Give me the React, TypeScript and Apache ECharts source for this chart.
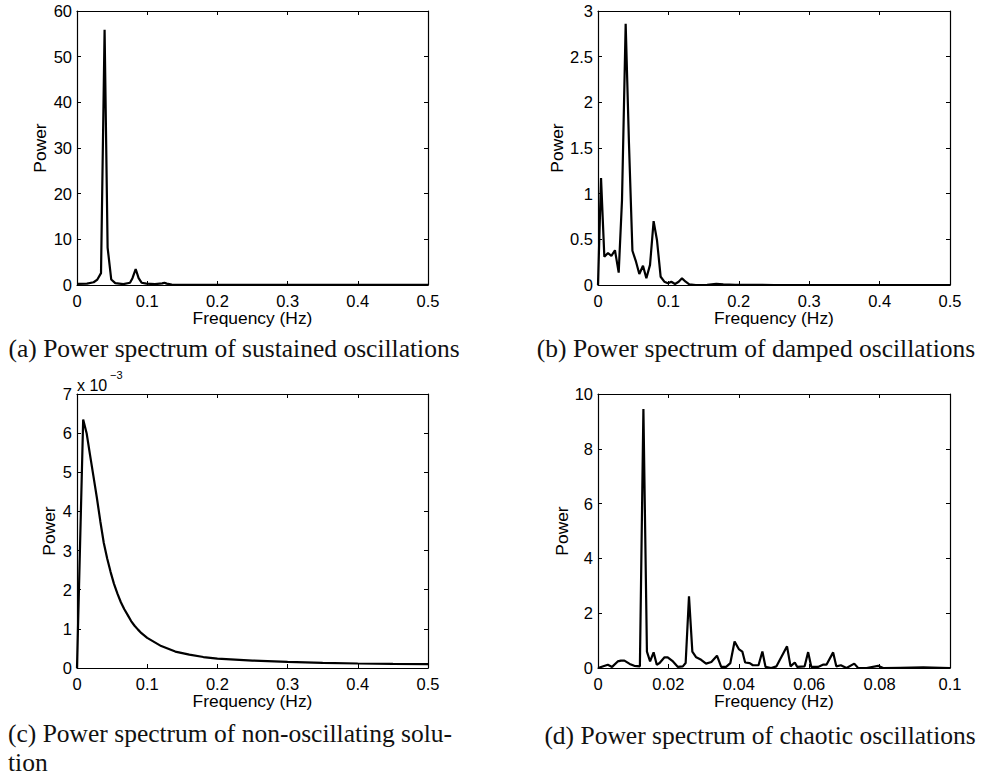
import React, { useEffect, useRef } from "react";
import * as echarts from "echarts";

// (a) sustained oscillations
const freqA = [0, 0.0142, 0.0237, 0.029, 0.0342, 0.0393, 0.0436, 0.0488, 0.0545, 0.066, 0.0755, 0.079, 0.0836, 0.0878, 0.092, 0.099, 0.111, 0.1215, 0.1245, 0.1277, 0.135, 0.2, 0.3, 0.4, 0.5];
const powerA = [0.25, 0.3, 0.6, 1.2, 2.6, 55.9, 8.2, 1.2, 0.4, 0.2, 0.5, 1.5, 3.5, 1.5, 0.5, 0.3, 0.2, 0.35, 0.5, 0.3, 0.1, 0.05, 0.03, 0.02, 0.02];

// (b) damped oscillations
const freqB = [0, 0.0043, 0.009, 0.0142, 0.019, 0.0241, 0.0294, 0.0341, 0.0393, 0.044, 0.0489, 0.054, 0.0587, 0.0639, 0.0687, 0.0739, 0.079, 0.0838, 0.089, 0.0942, 0.0994, 0.1042, 0.1094, 0.1146, 0.1193, 0.1245, 0.1297, 0.139, 0.155, 0.168, 0.178, 0.195, 0.25, 0.5];
const powerB = [0, 1.17, 0.31, 0.35, 0.32, 0.38, 0.135, 0.93, 2.86, 1.55, 0.375, 0.255, 0.12, 0.21, 0.073, 0.22, 0.7, 0.49, 0.09, 0.036, 0.018, 0.036, 0.011, 0.036, 0.073, 0.036, 0.007, 0, 0.002, 0.012, 0.008, 0.002, 0, 0];

// (c) non-oscillating solution
const freqC = [0, 0.0088, 0.0137, 0.0185, 0.0234, 0.0283, 0.0332, 0.0381, 0.043, 0.0479, 0.0527, 0.0576, 0.0625, 0.0674, 0.0723, 0.0771, 0.082, 0.0869, 0.0918, 0.1, 0.12, 0.14, 0.16, 0.18, 0.2, 0.25, 0.3, 0.35, 0.4, 0.45, 0.5];
const powerC = [0, 6.35e-3, 6.0e-3, 5.45e-3, 4.9e-3, 4.35e-3, 3.75e-3, 3.2e-3, 2.8e-3, 2.45e-3, 2.15e-3, 1.9e-3, 1.68e-3, 1.5e-3, 1.35e-3, 1.2e-3, 1.08e-3, 0.98e-3, 0.89e-3, 0.77e-3, 0.56e-3, 0.42e-3, 0.34e-3, 0.28e-3, 0.24e-3, 0.19e-3, 0.155e-3, 0.13e-3, 0.115e-3, 0.105e-3, 0.1e-3];

// (d) chaotic oscillations
const freqD = [0, 0.0028, 0.004, 0.0056, 0.0065, 0.0075, 0.009, 0.0103, 0.0119, 0.0129, 0.0139, 0.0148, 0.0158, 0.0167, 0.0175, 0.0189, 0.0198, 0.0213, 0.0227, 0.0241, 0.0249, 0.02585, 0.0268, 0.0279, 0.0293, 0.0307, 0.0322, 0.0338, 0.035, 0.0364, 0.0376, 0.0388, 0.04, 0.041, 0.0418, 0.0431, 0.044, 0.0456, 0.0467, 0.0476, 0.0492, 0.0507, 0.0537, 0.0547, 0.0559, 0.0566, 0.0587, 0.0597, 0.0606, 0.0625, 0.0639, 0.0649, 0.0668, 0.0677, 0.069, 0.0706, 0.0728, 0.0739, 0.0763, 0.0796, 0.081, 0.0858, 0.0924, 0.1];
const powerD = [0, 0.12, 0.04, 0.24, 0.27, 0.27, 0.15, 0.08, 0.06, 9.45, 0.6, 0.24, 0.57, 0.12, 0.18, 0.39, 0.39, 0.24, 0.04, 0.06, 0.18, 2.62, 0.6, 0.39, 0.3, 0.16, 0.22, 0.45, 0.04, 0.04, 0.18, 0.97, 0.69, 0.6, 0.2, 0.18, 0.1, 0.1, 0.6, 0.04, 0, 0.06, 0.79, 0.06, 0.2, 0.04, 0.06, 0.58, 0.04, 0.04, 0.12, 0.12, 0.57, 0.06, 0.1, 0, 0.16, 0, 0, 0.08, 0, 0.01, 0.02, 0];

const captions = [
  "(a) Power spectrum of sustained oscillations",
  "(b) Power spectrum of damped oscillations",
  "(c) Power spectrum of non-oscillating solu-",
  "tion",
  "(d) Power spectrum of chaotic oscillations",
];

const xName = "Frequency (Hz)";
const yName = "Power";

const SANS = "'Liberation Sans', Arial, Helvetica, sans-serif";
const SERIF = "'Liberation Serif', 'Times New Roman', serif";
const FS = 16.5;
const NFS = 17.4;

type Panel = {
  grid: { left: number; top: number; width: number; height: number };
  xs: number[];
  ys: number[];
  xMax: number;
  xInt: number;
  yMax: number;
  yInt: number;
  yGap: number;
  yFmt?: (v: number) => string;
};

const panels: Panel[] = [
  { grid: { left: 77, top: 11, width: 351, height: 274 }, xs: freqA, ys: powerA, xMax: 0.5, xInt: 0.1, yMax: 60, yInt: 10, yGap: 29 },
  { grid: { left: 598, top: 11, width: 352, height: 274 }, xs: freqB, ys: powerB, xMax: 0.5, xInt: 0.1, yMax: 3, yInt: 0.5, yGap: 33 },
  { grid: { left: 77, top: 394, width: 351, height: 274 }, xs: freqC, ys: powerC, xMax: 0.5, xInt: 0.1, yMax: 0.007, yInt: 0.001, yGap: 20, yFmt: (v) => String(Math.round(v * 1000)) },
  { grid: { left: 598, top: 394, width: 352, height: 274 }, xs: freqD, ys: powerD, xMax: 0.1, xInt: 0.02, yMax: 10, yInt: 2, yGap: 28 },
];

export default function App() {
  const ref = useRef<HTMLDivElement>(null);
  useEffect(() => {
    if (!ref.current) return;
    const chart = echarts.init(ref.current, undefined, { renderer: "svg" });
    const axisLine = { show: true, onZero: false, lineStyle: { color: "#000", width: 1.2 } };
    const axisTick = { show: true, inside: true, length: 4, lineStyle: { color: "#000", width: 1 } };
    const label = { color: "#000", fontSize: FS, fontFamily: SANS };
    const nameStyle = { color: "#000", fontSize: NFS, fontFamily: SANS };
    const grids: any[] = [];
    const xAxes: any[] = [];
    const yAxes: any[] = [];
    const series: any[] = [];
    panels.forEach((p, i) => {
      grids.push({ ...p.grid, containLabel: false, show: false });
      xAxes.push({
        type: "value", gridIndex: i, position: "bottom", min: 0, max: p.xMax, interval: p.xInt,
        axisLine, axisTick, splitLine: { show: false },
        axisLabel: { ...label, margin: 7 },
        name: xName, nameLocation: "middle", nameGap: 23, nameTextStyle: nameStyle,
      });
      xAxes.push({
        type: "value", gridIndex: i, position: "top", min: 0, max: p.xMax, interval: p.xInt,
        axisLine, axisTick, splitLine: { show: false }, axisLabel: { show: false },
      });
      yAxes.push({
        type: "value", gridIndex: i, position: "left", min: 0, max: p.yMax, interval: p.yInt,
        axisLine, axisTick, splitLine: { show: false },
        axisLabel: { ...label, margin: 5, formatter: p.yFmt },
        name: yName, nameLocation: "middle", nameGap: p.yGap, nameRotate: 90, nameTextStyle: nameStyle,
      });
      yAxes.push({
        type: "value", gridIndex: i, position: "right", min: 0, max: p.yMax, interval: p.yInt,
        axisLine, axisTick, splitLine: { show: false }, axisLabel: { show: false },
      });
      series.push({
        type: "line", xAxisIndex: 2 * i, yAxisIndex: 2 * i,
        data: p.xs.map((x, k) => [x, p.ys[k]]),
        showSymbol: false, symbol: "none", smooth: false,
        lineStyle: { color: "#000", width: 2.2 },
        clip: true,
      });
    });
    const capStyle = { fill: "#111", fontSize: 25.5, fontFamily: SERIF, textVerticalAlign: "middle" };
    chart.setOption({
      animation: false,
      backgroundColor: "#fff",
      grid: grids,
      xAxis: xAxes,
      yAxis: yAxes,
      series,
      graphic: [
        { type: "text", x: 234, y: 348, style: { ...capStyle, text: captions[0], textAlign: "center" } },
        { type: "text", x: 756, y: 348, style: { ...capStyle, text: captions[1], textAlign: "center" } },
        { type: "text", x: 8, y: 733, style: { ...capStyle, text: captions[2], textAlign: "left" } },
        { type: "text", x: 8, y: 762, style: { ...capStyle, text: captions[3], textAlign: "left" } },
        { type: "text", x: 760, y: 735, style: { ...capStyle, text: captions[4], textAlign: "center" } },
        { type: "text", x: 77, y: 385, style: { text: "x 10", fill: "#000", fontSize: 16, fontFamily: SANS, textAlign: "left", textVerticalAlign: "middle" } },
        { type: "text", x: 110, y: 375, style: { text: "\u22123", fill: "#000", fontSize: 11, fontFamily: SANS, textAlign: "left", textVerticalAlign: "middle" } },
      ],
    });
    return () => chart.dispose();
  }, []);
  return <div ref={ref} style={{ position: "absolute", left: 0, top: 0, width: 993, height: 776, background: "#fff" }} />;
}
